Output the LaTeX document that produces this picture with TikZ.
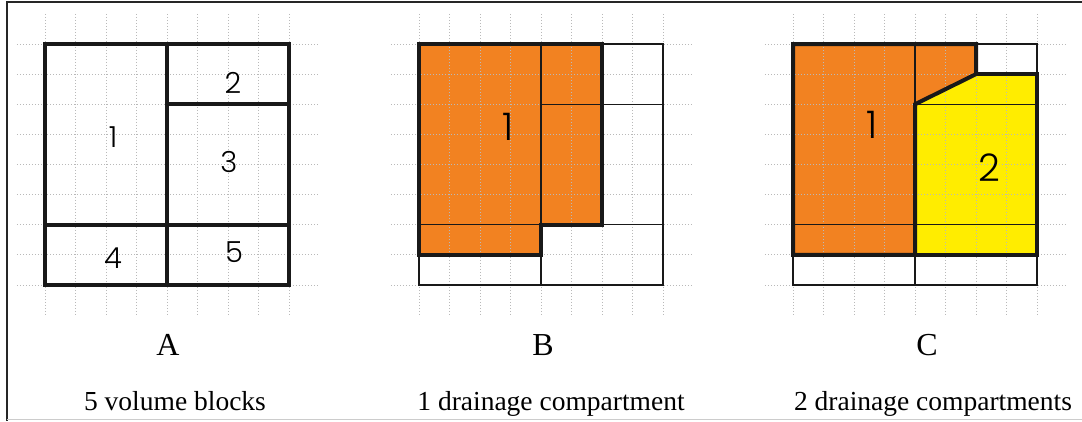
\documentclass[tikz,border=0pt]{standalone}
\usepackage{fontspec}
\setmainfont{Liberation Serif}
\newfontfamily\numfont{Poppins}[UprightFont=* Light]
\usetikzlibrary{calc}
\definecolor{drainorange}{RGB}{242,130,33}
\definecolor{drainyellow}{RGB}{255,237,0}
\tikzset{gridline/.style={gray!55,line width=.9pt,dash pattern=on 1.5pt off 1.5pt},
  blockline/.style={line width=4pt,line join=miter,black!90},thinblock/.style={line width=1.1pt,black!90},
  numsmall/.style={font=\numfont\fontsize{29}{29}\selectfont},numbig/.style={font=\numfont\fontsize{38}{38}\selectfont},
  panel/.style={xshift=#1,yshift=-44pt,x=30.5pt,y=-30.125pt},
  panelname/.style={anchor=base,font=\fontsize{32}{32}\selectfont},caption/.style={anchor=base,font=\fontsize{27.5}{28}\selectfont}}

\begin{document}
\begin{tikzpicture}[x=1pt,y=-1pt]
\useasboundingbox(0,0)rectangle(1082,421);
\draw[line width=1.6pt,black!85](1082,2)--(7,2)--(7,421);\draw[line width=1pt,black!20](7,419.5)--(1082,419.5);
% A: volume blocks
\begin{scope}[panel=45pt]
\foreach \i in {0,...,8}{\draw[gridline](\i,-1)--(\i,9);\draw[gridline](-.92,\i)--(9,\i);}
\draw[blockline](0,0)rectangle(8,8);\draw[blockline](4,0)--(4,8);\draw[blockline](0,6)--(8,6);\draw[blockline](4,2)--(8,2);
\node[numsmall](a1)at(2.23,3.09){1};\node[numsmall](a2)at(6.16,1.29){2};\node[numsmall](a3)at(6.03,3.92){3};
\node[numsmall](a4)at(2.23,7.1){4};\node[numsmall](a5)at(6.2,6.9){5};
\end{scope}
% B: one compartment
\begin{scope}[panel=419pt]
\fill[drainorange](0,0)--(6,0)--(6,6)--(4,6)--(4,7)--(0,7)--cycle;
\foreach \i in {0,...,8}{\draw[gridline](\i,-1)--(\i,9);\draw[gridline](-.92,\i)--(9,\i);}
\draw[thinblock](0,0)rectangle(8,8);\draw[thinblock](4,0)--(4,8);\draw[thinblock](0,6)--(8,6);\draw[thinblock](4,2)--(8,2);
\draw[blockline](0,0)--(6,0)--(6,6)--(4,6)--(4,7)--(0,7)--cycle;
\node[numbig](b1)at(2.92,2.76){1};
\end{scope}
% C: two compartments
\begin{scope}[panel=793pt]
\fill[drainorange](0,0)--(6,0)--(6,1)--(4,2)--(4,7)--(0,7)--cycle;\fill[drainyellow](4,2)--(6,1)--(8,1)--(8,7)--(4,7)--cycle;
\foreach \i in {0,...,8}{\draw[gridline](\i,-1)--(\i,9);\draw[gridline](-.92,\i)--(9,\i);}
\draw[thinblock](0,0)rectangle(8,8);\draw[thinblock](4,0)--(4,8);\draw[thinblock](0,6)--(8,6);\draw[thinblock](4,2)--(8,2);
\draw[blockline](0,0)--(6,0)--(6,1)--(4,2)--(4,7)--(0,7)--cycle;\draw[blockline](6,1)--(8,1)--(8,7)--(4,7);
\node[numbig](c1)at(2.59,2.69){1};\node[numbig](c2)at(6.43,4.12){2};
\end{scope}
\node[panelname](nA)at(168,355){A};\node[panelname](nB)at(543,355){B};\node[panelname](nC)at(927,355){C};
\node[caption](capA)at(175,410.5){5 volume blocks};\node[caption](capB)at(551,410.5){1 drainage compartment};
\node[caption](capC)at(933,410.5){2 drainage compartments};
\end{tikzpicture}
\end{document}
